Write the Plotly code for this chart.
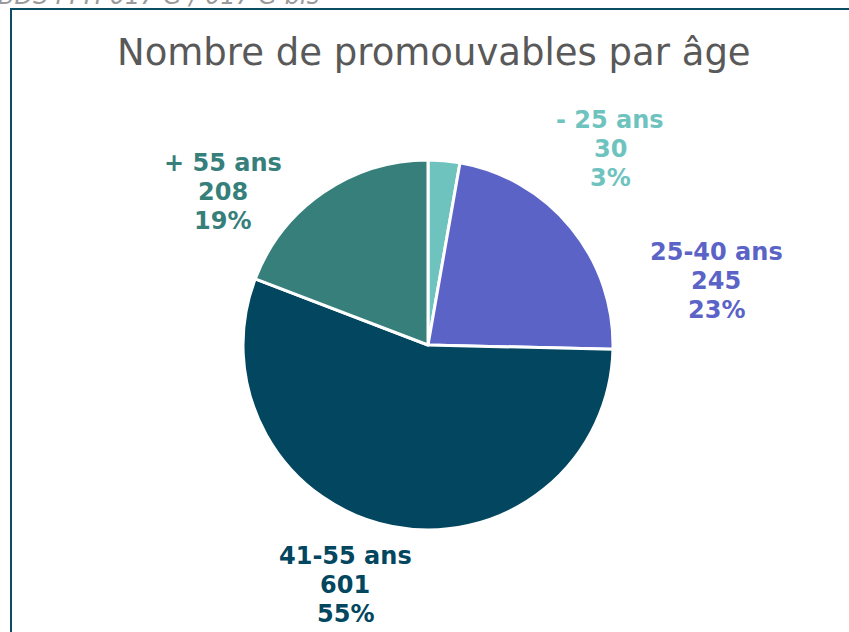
import plotly.graph_objects as go

categories = ["- 25 ans", "25-40 ans", "41-55 ans", "+ 55 ans"]
values = [30, 245, 601, 208]
colors = ["#6fc3bf", "#5b63c7", "#02465f", "#367f7a"]

title_text = "Nombre de promouvables par âge"
source_text = "BDS FPH 017 G / 017 G bis"

W, H = 849, 632
cx, cy, r = 428, 345, 185

# label anchor positions (pixels from top-left), layout only
label_pos = [(610, 149), (716, 281), (345, 585), (223, 192)]
line_gap = 29

total = sum(values)

fig = go.Figure()
fig.add_trace(go.Pie(
    labels=categories,
    values=values,
    sort=False,
    direction="clockwise",
    rotation=0,
    marker=dict(colors=colors, line=dict(color="white", width=3)),
    textinfo="none",
    hoverinfo="label+value+percent",
    domain=dict(x=[(cx - r) / W, (cx + r) / W], y=[(H - cy - r) / H, (H - cy + r) / H]),
    showlegend=False,
))

annotations = []
for cat, val, col, (px, py) in zip(categories, values, colors, label_pos):
    pct = round(100 * val / total)
    for k, line in enumerate([cat, str(val), f"{pct}%"]):
        annotations.append(dict(
            x=px / W, y=1 - (py + (k - 1) * line_gap) / H, xref="paper", yref="paper",
            text=f"<b>{line}</b>",
            showarrow=False, align="center",
            xanchor="center", yanchor="middle",
            font=dict(family="DejaVu Sans", size=24, color=col),
        ))

annotations.append(dict(
    x=434 / W, y=1 - 52 / H, xref="paper", yref="paper",
    text=title_text, showarrow=False, xanchor="center", yanchor="middle",
    font=dict(family="DejaVu Sans", size=37, color="#595959"),
))
annotations.append(dict(
    x=-4 / W, y=1 + 4 / H, xref="paper", yref="paper",
    text=f"<i>{source_text}</i>", showarrow=False, xanchor="left", yanchor="middle",
    font=dict(family="DejaVu Sans", size=24, color="#9a9a9a"),
))

fig.update_layout(
    width=W, height=H,
    margin=dict(l=0, r=0, t=0, b=0),
    paper_bgcolor="white", plot_bgcolor="white",
    annotations=annotations,
    shapes=[dict(
        type="rect", xref="paper", yref="paper",
        x0=11 / W, x1=1.05, y0=-0.05, y1=1 - 9 / H,
        line=dict(color="#0d4d63", width=2), fillcolor="rgba(0,0,0,0)",
        layer="below",
    )],
)

fig.write_html(
    "out.html",
    config={"displayModeBar": False},
    post_script="document.body.style.margin='0';document.body.style.overflow='hidden';",
)
